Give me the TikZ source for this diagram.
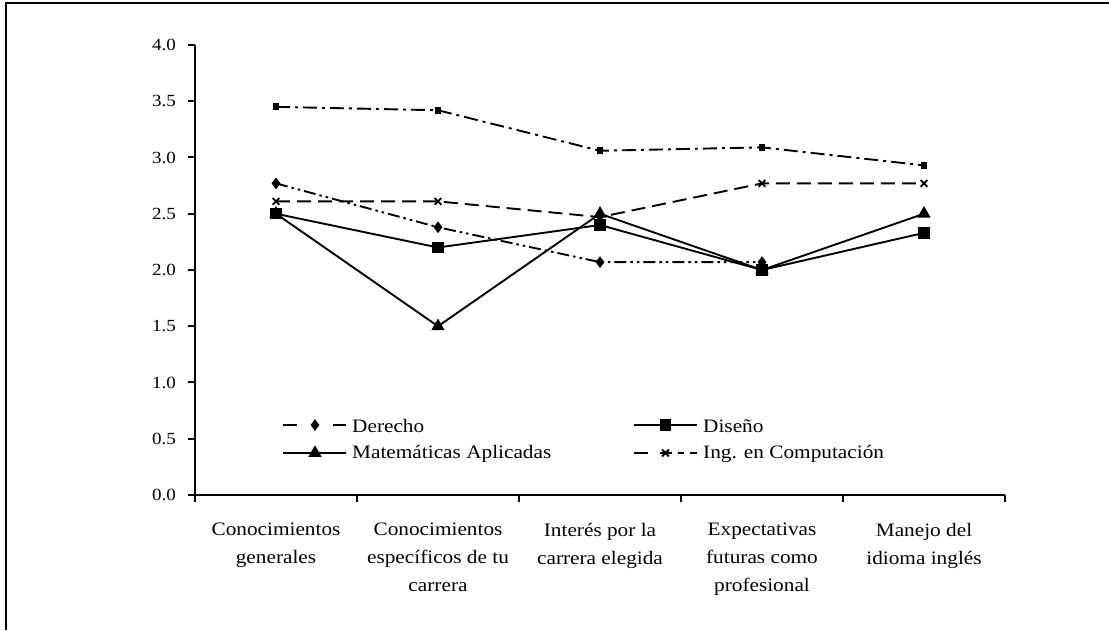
\documentclass[tikz,border=0pt]{standalone}
\usepackage{fontspec}
\setmainfont{Liberation Serif}[FakeStretch=1.12]
\usetikzlibrary{plotmarks}
\tikzset{
  frameline/.style={line width=1.3pt, black},
  axisline/.style={line width=2pt, black},
  series/.style={line width=1.9pt, black, mark options={solid, fill=black}},
  topser/.style={series, dash pattern=on 14pt off 5pt on 3pt off 5pt, mark=square*, mark size=2.5pt},
  derser/.style={series, dash pattern=on 12pt off 4pt on 2.5pt off 4pt on 2.5pt off 4pt, mark=diamond*, mark size=4.3pt},
  ingser/.style={series, dash pattern=on 14pt off 7pt, mark=x, mark size=4.8pt, mark options={solid, line width=1.9pt}},
  disser/.style={series, mark=square*, mark size=4.8pt},
  matser/.style={series, mark=triangle*, mark size=5.8pt},
  ticklab/.style={font=\fontsize{17}{22}\selectfont, inner sep=0pt, anchor=east},
  catlab/.style={font=\fontsize{19}{28}\selectfont, inner sep=0pt, anchor=north, align=center},
  leglab/.style={font=\fontsize{19}{22}\selectfont, inner sep=0pt, anchor=west},
}
\begin{document}
\begin{tikzpicture}[x=1pt,y=1pt]
\useasboundingbox (0,0) rectangle (1109,630);
% frame (top and left)
\draw[frameline] (6,0) -- (6,627) -- (1109,627);
% axes
\begin{scope}[shift={(0,135)}, y=112.5pt]
  \draw[axisline] (195,4) -- (195,0) -- (1005,0);
  \foreach \v in {0.0,0.5,1.0,1.5,2.0,2.5,3.0,3.5,4.0} {
    \draw[axisline] (188,\v) -- (195,\v);
    \node[ticklab] (t\v) at (176,\v) {\v};
  }
  \foreach \k in {0,...,5} {
    \draw[axisline] (195+162*\k,0) -- (195+162*\k,-0.065);
  }
  % series
  \draw[topser] plot coordinates {(276,3.45) (438,3.42) (600,3.06) (762,3.09) (924,2.93)};
  \draw[derser] plot coordinates {(276,2.77) (438,2.38) (600,2.07) (762,2.07)};
  \draw[ingser] plot coordinates {(276,2.61) (438,2.61) (600,2.47) (762,2.77) (924,2.77)};
  \draw[disser] plot coordinates {(276,2.5) (438,2.2) (600,2.4) (762,2.0) (924,2.33)};
  \draw[matser] plot coordinates {(276,2.5) (438,1.5) (600,2.5) (762,2.0) (924,2.5)};
\end{scope}
% category labels
\node[catlab] (c1) at (276,107) {Conocimientos\\generales};
\node[catlab] (c2) at (438,107) {Conocimientos\\específicos de tu\\carrera};
\node[catlab] (c3) at (600,107) {Interés por la\\carrera elegida};
\node[catlab] (c4) at (762,107) {Expectativas\\futuras como\\profesional};
\node[catlab] (c5) at (924,107) {Manejo del\\idioma inglés};
% legend
\draw[series] (283,205) -- (297,205) (333,205) -- (346,205);
\draw[derser] plot coordinates {(315,205)};
\node[leglab] (l1) at (352,204) {Derecho};
\draw[series] (634,205) -- (697,205);
\draw[disser] plot coordinates {(665.5,205)};
\node[leglab] (l2) at (703,204) {Diseño};
\draw[series] (283,177) -- (346,177);
\draw[matser] plot coordinates {(315,177)};
\node[leglab] (l3) at (352,176) {Matemáticas Aplicadas};
\draw[series] (634,177) -- (648,177) (660,177) -- (672,177) (678,177) -- (684,177) (690,177) -- (697,177);
\draw[ingser] plot coordinates {(665.5,177)};
\node[leglab] (l4) at (703,176) {Ing. en Computación};
\end{tikzpicture}
\end{document}
